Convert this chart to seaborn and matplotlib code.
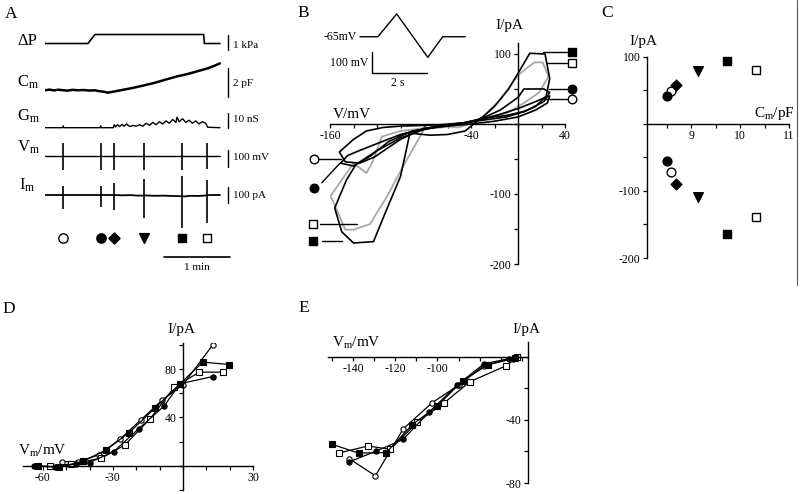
import matplotlib
matplotlib.use('Agg')
import matplotlib.pyplot as plt
from matplotlib.lines import Line2D
import seaborn as sns

# ---------------- Panel A data (time in s) ----------------
A_t_end = 159
A_spike_t = [16.6, 50.6, 62.7, 90.3, 124.3, 147.5]
A_Vm_rest = -65
A_Vm_peak = [13, 13, 13, 13, 13, 13]
A_Vm_trough = [-147, -147, -147, -147, -147, -140]
A_Im_up = [56, 56, 77, 98, 119, 94]
A_Im_down = [-89, -77, -94, -146, -208, -177]
A_dP_t = [0, 39, 45.5, 144.3, 144.8, 159]
A_dP_v = [0, 0, 0.6, 0.6, 0, 0]
A_Cm_t = [0, 4, 8, 12, 16, 20, 25, 30, 35, 40, 45, 50, 54, 57, 62, 70, 80, 90,
          100, 110, 120, 130, 140, 148, 154, 159]
A_Cm_v = [8.53, 8.58, 8.52, 8.57, 8.54, 8.50, 8.56, 8.53, 8.55, 8.51, 8.53, 8.46,
          8.42, 8.36, 8.43, 8.55, 8.70, 8.88, 9.07, 9.30, 9.52, 9.70, 9.92, 10.10,
          10.28, 10.45]
A_Gm_t = [0, 16, 16.6, 17.2, 50, 50.6, 51.2, 62, 63, 64, 66, 68, 70, 72, 74, 77,
          80, 83, 86, 89, 92, 95, 98, 101, 104, 107, 110, 113, 116, 119, 120, 122,
          125, 128, 131, 134, 137, 140, 143, 146, 148, 159]
A_Gm_v = [0, 0, 1.2, 0, 0, 1.2, 0, 0, 2, 0.5, 2, 0.8, 2.2, 1, 2.5, 0.8, 1.5, 1,
          2, 1, 3, 1.5, 3.5, 2, 4, 2.5, 4.5, 3, 5.5, 3.5, 7, 4, 6, 3.5, 5, 3, 4.5,
          2.5, 4, 3, 0.3, 0]
A_Im_t = [0, 62, 70, 78, 85, 92, 100, 108, 115, 122, 127, 132, 140, 146, 150, 159]
A_Im_v = [0, 0, -2, -1, -4, -3, -5, -4, -6, -7, -9, -5, -6, -3, 0, 0]

# ---------------- Panel B data (ramp I-V loops) ----------------
B_prot_t = [0, 0.65, 1.33, 2.46, 3.0, 3.82]
B_prot_v = [-65, -65, 40, -160, -65, -65]
B_oc_V = [-65, -45, -32, -15, 0, 15, 22, 27, 25, 15, 0, -20, -40, -60, -80, -100,
          -122, -135, -147, -152, -140, -129, -115, -100, -80, -65]
B_oc_I = [-1, 2, 6, 14, 22, 32, 37, 40, 30, 20, 10, 4, 0, -3, -6, -22, -47, -56,
          -54, -40, -22, -10, -5, -3, -2, -1]
B_fc_V = [-65, -45, -32, -15, 0, 5, 22, 27, 22, 6, -10, -32, -50, -70, -90, -110,
          -125, -140, -151, -145, -135, -120, -100, -80, -65]
B_fc_I = [-2, 2, 7, 20, 38, 50, 50, 45, 32, 18, 10, 5, 0, -5, -10, -25, -45, -60,
          -56, -45, -38, -28, -15, -7, -2]
B_fs_V = [-65, -50, -32, -20, -8, 2, 10, 23, 27, 24, 15, 5, -10, -32, -45, -60,
          -75, -92, -100, -112, -123, -140, -150, -156, -146, -138, -120, -100, -80, -65]
B_fs_I = [-3, 0, 7, 25, 50, 78, 101, 100, 65, 40, 25, 18, 12, 8, -10, -15, -16,
          -13, -75, -123, -168, -170, -154, -120, -80, -58, -38, -20, -8, -3]
B_os_V = [-65, -50, -32, -15, 0, 14, 21, 26, 18, 5, -10, -32, -50, -67, -78, -98,
          -112, -126, -140, -147, -158, -160, -140, -129, -124, -116, -100, -80, -65]
B_os_I = [-5, 0, 7, 35, 70, 88, 88, 68, 45, 30, 15, 8, -5, -3, -2, -61, -105, -143,
          -151, -151, -108, -104, -56, -70, -55, -18, -10, -6, -5]

# ---------------- Panel C data ----------------
C_Cm = [8.60, 8.50, 8.70, 9.14, 9.74, 10.33]
C_Ipos = [49, 42, 58, 78, 94, 80]
C_Ineg = [-72, -55, -90, -109, -164, -139]

# ---------------- Panel D data ----------------
D_oc_V = [-52, -45, -36, -27, -18, -8.8, 0, 12.8]
D_oc_I = [3.5, 3.5, 9, 22, 38, 54.5, 67, 100]
D_fs_V = [-62, -53, -43, -33, -23, -12, -1.3, 8.5, 19.7]
D_fs_I = [0, -1, 3.6, 13, 27.5, 47.7, 67.8, 85.7, 83.7]
D_os_V = [-57, -48, -35, -25, -14, -3.7, 7, 17]
D_os_I = [-0.5, 1.5, 6.3, 17, 39, 65, 77.4, 77.4]
D_fc_V = [-64, -55, -46, -40, -29.6, -19, -8, -1.3, 12.8]
D_fc_I = [0, -1, 1.5, 2.7, 11.8, 30.5, 49.6, 67.8, 73.8]

# ---------------- Panel E data ----------------
E_oc_V = [-141.8, -129.5, -116.3, -102.5, -90, -78, -64]
E_oc_I = [-64.7, -75.4, -45.7, -29, -18, -5.5, -1]
E_fs_V = [-150, -137.5, -124.3, -112, -100, -88, -76, -63]
E_fs_I = [-55.5, -61, -60.7, -43, -31, -15, -5, -0.5]
E_os_V = [-147, -133, -122.4, -109.7, -96.7, -84.6, -67.6, -62]
E_os_I = [-61, -56.5, -58.6, -41.5, -29, -15.7, -5.7, 0]
E_fc_V = [-141.8, -129, -116.3, -104, -90.6, -78, -66]
E_fc_I = [-66.5, -59.7, -52.3, -35, -17.8, -4.4, -1]

# ---------------- style ----------------
sns.set_theme(style='ticks', context='paper')
plt.rcParams['font.family'] = ['Liberation Serif', 'DejaVu Serif']
plt.rcParams['mathtext.fontset'] = 'custom'
plt.rcParams['mathtext.rm'] = 'Liberation Serif'
plt.rcParams['mathtext.it'] = 'Liberation Serif:italic'
plt.rcParams['mathtext.default'] = 'regular'
plt.rcParams['text.color'] = 'black'

W, H = 800, 494
fig = plt.figure(figsize=(8, 4.94), dpi=100)
fig.patch.set_facecolor('white')
SYMS = [('o', 'white'), ('o', 'black'), ('D', 'black'), ('v', 'black'),
        ('s', 'black'), ('s', 'white')]
K = 'black'
GRAY = '#a8a8a8'


def add_ax(l, t, r, b):
    ax = fig.add_axes([l / W, 1 - b / H, (r - l) / W, (b - t) / H])
    ax.set_facecolor('none')
    return ax


def ftext(x, y, s, **kw):
    kw.setdefault('va', 'baseline')
    kw.setdefault('color', 'black')
    fig.text(x / W, 1 - y / H, s, **kw)


def line(ax, x, y, **kw):
    kw.setdefault('color', K)
    kw.setdefault('lw', 1.0)
    sns.lineplot(x=x, y=y, sort=False, estimator=None, ax=ax, **kw)


def trace_ax(t, b, base_px, base_val, ppu):
    ax = add_ax(45, t, 265, b)
    ax.set_xlim(0, 200)
    ax.set_ylim(base_val - (b - base_px) / ppu, base_val + (base_px - t) / ppu)
    ax.axis('off')
    return ax


def cross(ax, xlim, ylim, x0, y0, xt, xl, yt, yl):
    ax.set_xlim(*xlim)
    ax.set_ylim(*ylim)
    for s in ['top', 'right']:
        ax.spines[s].set_visible(False)
    ax.spines['left'].set_position(('data', x0))
    ax.spines['bottom'].set_position(('data', y0))
    for s in ['left', 'bottom']:
        ax.spines[s].set_color('black')
        ax.spines[s].set_linewidth(1.0)
    ax.set_xticks(xt)
    ax.set_xticklabels(xl)
    ax.set_yticks(yt)
    ax.set_yticklabels(yl)
    ax.tick_params(direction='out', length=3, width=0.9, labelsize=8.5, pad=1.5,
                   colors='black')
    ax.set_xlabel('')
    ax.set_ylabel('')
    ax.grid(False)


# ================= Panel A =================
XB = 166  # scale bar time position
ax = trace_ax(26, 52, 43.5, 0, 15)
line(ax, A_dP_t, A_dP_v, lw=1.2)
ax.plot([XB, XB], [-0.45, 0.55], color=K, lw=1.0, clip_on=False)

ax = trace_ax(56, 102, 90, 8.55, 14)
line(ax, A_Cm_t, A_Cm_v, lw=1.8)
ax.plot([XB, XB], [8.05, 10.1], color=K, lw=1.0, clip_on=False)

ax = trace_ax(106, 132, 127.7, 0, 1.5)
line(ax, A_Gm_t, A_Gm_v, lw=1.0)
ax.plot([XB, XB], [-0.5, 9.5], color=K, lw=1.0, clip_on=False)

ax = trace_ax(136, 176, 156, A_Vm_rest, 0.17)
line(ax, [0, A_t_end], [A_Vm_rest, A_Vm_rest], lw=1.0)
ax.vlines(A_spike_t, A_Vm_trough, A_Vm_peak, color=K, lw=1.2)
ax.plot([XB, XB], [-131, -31], color=K, lw=1.0, clip_on=False)

ax = trace_ax(160, 245, 195, 0, 0.16)
line(ax, A_Im_t, A_Im_v, lw=1.3)
ax.vlines(A_spike_t, A_Im_down, A_Im_up, color=K, lw=1.2)
ax.plot([XB, XB], [-50, 50], color=K, lw=1.0, clip_on=False)

ax = add_ax(45, 228, 265, 276)
ax.set_xlim(0, 200)
ax.set_ylim(0, 1)
ax.axis('off')
for t, (m, fc) in zip(A_spike_t, SYMS):
    sz = {'o': 45, 'D': 32, 'v': 50, 's': 40}[m]
    sns.scatterplot(x=[t], y=[0.785], marker=m, s=sz, color=fc, edgecolor=K,
                    linewidth=1.0, ax=ax, clip_on=False)
ax.plot([108.2, 168.2], [0.40, 0.40], color=K, lw=1.2, clip_on=False)
ax.set_xlabel('')
ax.set_ylabel('')

fs_lab = 12
ftext(17, 45, 'ΔP', fontsize=fs_lab)
ftext(17, 87, 'C$_m$', fontsize=fs_lab)
ftext(17, 121, 'G$_m$', fontsize=fs_lab)
ftext(17, 152, 'V$_m$', fontsize=fs_lab)
ftext(19, 189.5, 'I$_m$', fontsize=fs_lab)
fs_sc = 8
ftext(233, 47.5, '1 kPa', fontsize=fs_sc)
ftext(233, 85.5, '2 pF', fontsize=fs_sc)
ftext(233, 121.5, '10 nS', fontsize=fs_sc)
ftext(233, 160, '100 mV', fontsize=fs_sc)
ftext(233, 198, '100 pA', fontsize=fs_sc)
ftext(197, 270.5, '1 min', fontsize=fs_sc, ha='center')

# panel letters
fs_L = 12.5
ftext(5, 18, 'A', fontsize=fs_L)
ftext(297, 17, 'B', fontsize=fs_L)
ftext(601, 17, 'C', fontsize=fs_L)
ftext(2, 313, 'D', fontsize=fs_L)
ftext(298, 312, 'E', fontsize=fs_L)

# ================= Panel B =================
axp = add_ax(355, 10, 470, 78)
line(axp, B_prot_t, B_prot_v, lw=1.0)
axp.set_xlim(-0.18, 3.99)
axp.set_ylim(-255, 58)
axp.axis('off')
axp.plot([0.43, 0.43, 2.43], [-134, -234, -234], color=K, lw=1.0, clip_on=False)
ftext(357, 40.5, '-65mV', fontsize=8.5, ha='right')
ftext(368, 66.5, '100 mV', fontsize=8.5, ha='right')
ftext(398, 86, '2 s', fontsize=8.5, ha='center')

axB = add_ax(330, 43, 565, 264)
line(axB, B_os_V, B_os_I, color=GRAY, lw=1.3)
line(axB, B_oc_V, B_oc_I, lw=1.2)
line(axB, B_fc_V, B_fc_I, lw=1.2)
line(axB, B_fs_V, B_fs_I, lw=1.2)
# leader lines and symbols
leaders = [
    ((21, 42), (102.9, 102.9), 's', K, (45.7, 102.9)),
    ((24, 42), (87, 87), 's', 'white', (45.7, 87)),
    ((26, 42), (49.6, 49.6), 'o', K, (45.7, 49.6)),
    ((22, 42), (35.3, 35.3), 'o', 'white', (45.7, 35.3)),
    ((-170, -151), (-50, -50), 'o', 'white', (-174, -50)),
    ((-167, -151.5), (-84, -56), 'o', K, (-174, -92)),
    ((-168.5, -137), (-143, -143), 's', 'white', (-174.5, -143)),
    ((-167, -150), (-167, -167), 's', K, (-174.5, -167)),
]
for xs, ys, m, fc, pos in leaders:
    axB.plot(xs, ys, color=K, lw=1.0, clip_on=False)
    axB.scatter([pos[0]], [pos[1]], marker=m, s=38 if m == 'o' else 32,
                facecolor=fc, edgecolor=K, linewidth=1.0, clip_on=False, zorder=5)
cross(axB, (-160, 40), (-200, 115.7), 0, 0,
      list(range(-160, 41, 20)),
      ['-160', '', '', '', '', '', '-40', '', '', '', '40'],
      list(range(-200, 101, 50)),
      ['-200', '', '-100', '', '', '', '100'])
ftext(495, 29, 'I/pA', fontsize=11)
ftext(333, 117.5, 'V/mV', fontsize=11)

# ================= Panel C =================
axC = add_ax(647, 56.7, 789, 258)
for x, yp, yn, (m, fc) in zip(C_Cm, C_Ipos, C_Ineg, SYMS):
    sz = {'o': 40, 'D': 30, 'v': 48, 's': 36}[m]
    sns.scatterplot(x=[x, x], y=[yp, yn], marker=m, s=sz, color=fc, edgecolor=K,
                    linewidth=1.0, ax=axC, clip_on=False, zorder=5)
cross(axC, (8.1, 11), (-200, 100), 8.1, 0,
      [8.5, 9, 9.5, 10, 10.5, 11], ['', '9', '', '10', '', '11'],
      list(range(-200, 101, 50)),
      ['-200', '', '-100', '', '', '', '100'])
ftext(629, 45, 'I/pA', fontsize=11)
ftext(754, 117, 'C$_m$/pF', fontsize=11)

# ================= Panel D =================
axD = add_ax(23, 343, 253, 490)
mk = dict(marker='o', markersize=3.8, markeredgecolor=K, markeredgewidth=0.8)
line(axD, D_oc_V, D_oc_I, lw=0.9, markerfacecolor='white', **mk)
line(axD, D_os_V, D_os_I, lw=0.9, markerfacecolor='white',
     **{**mk, 'marker': 's', 'markersize': 3.8})
line(axD, D_fc_V, D_fc_I, lw=0.9, markerfacecolor=K, **mk)
line(axD, D_fs_V, D_fs_I, lw=0.9, markerfacecolor=K,
     **{**mk, 'marker': 's', 'markersize': 3.8})
cross(axD, (-68.5, 30), (-20, 101.5), 0, 0,
      list(range(-60, 31, 10)),
      ['-60', '', '', '-30', '', '', '', '', '', '30'],
      list(range(-20, 101, 20)),
      ['', '', '', '40', '', '80', ''])
ftext(167, 333, 'I/pA', fontsize=11)
ftext(18, 455, 'V$_m$/mV', fontsize=11)

# ================= Panel E =================
axE = add_ax(328, 342, 528, 483)
line(axE, E_oc_V, E_oc_I, lw=0.9, markerfacecolor='white', **mk)
line(axE, E_os_V, E_os_I, lw=0.9, markerfacecolor='white',
     **{**mk, 'marker': 's', 'markersize': 3.8})
line(axE, E_fc_V, E_fc_I, lw=0.9, markerfacecolor=K, **mk)
line(axE, E_fs_V, E_fs_I, lw=0.9, markerfacecolor=K,
     **{**mk, 'marker': 's', 'markersize': 3.8})
cross(axE, (-152, -57), (-80, 9.5), -57, 0,
      list(range(-150, -59, 10)),
      ['', '-140', '', '-120', '', '-100', '', '', '', ''],
      list(range(-80, 1, 20)),
      ['-80', '', '-40', '', ''])
ftext(512, 333, 'I/pA', fontsize=11)
ftext(332, 347, 'V$_m$/mV', fontsize=11)

# right border line
fig.add_artist(Line2D([797 / W, 797 / W], [1, 1 - 285 / H], color='0.35', lw=0.8))

fig.savefig('out.png', dpi=100)
